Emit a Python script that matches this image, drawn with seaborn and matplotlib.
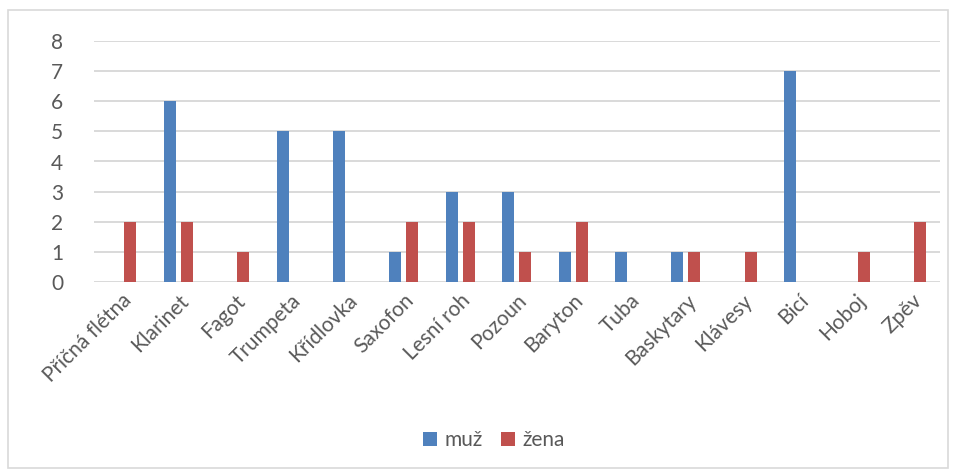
import pandas as pd
import seaborn as sns
from matplotlib import pyplot as plt
from matplotlib.patches import Rectangle

# Data
nastroje = ['Příčná flétna', 'Klarinet', 'Fagot', 'Trumpeta', 'Křídlovka', 'Saxofon',
            'Lesní roh', 'Pozoun', 'Baryton', 'Tuba', 'Baskytary', 'Klávesy', 'Bicí',
            'Hoboj', 'Zpěv']
muz = [0, 6, 0, 5, 5, 1, 3, 3, 1, 1, 1, 0, 7, 0, 0]
zena = [2, 2, 1, 0, 0, 2, 2, 1, 2, 0, 1, 1, 0, 1, 2]

df = pd.DataFrame({'nastroj': nastroje * 2,
                   'pocet': muz + zena,
                   'pohlavi': ['muž'] * len(muz) + ['žena'] * len(zena)})

sns.set_style('white')
plt.rcParams['font.family'] = ['Lato', 'DejaVu Sans']
text_col = '#595959'

fig = plt.figure(figsize=(9.55, 4.75), dpi=100)
ax = fig.add_axes([0.098, 0.406, 0.886, 0.508])

sns.barplot(data=df, x='nastroj', y='pocet', hue='pohlavi',
            palette={'muž': '#4F81BD', 'žena': '#C0504D'}, saturation=1,
            width=0.6, gap=0.29, linewidth=0, ax=ax, legend=True)

ax.set_ylim(0, 8)
ax.set_xlim(-0.5, len(nastroje) - 0.5)
ax.set_yticks(range(0, 9))
ax.yaxis.grid(True, color='#D9D9D9', linewidth=1.4)
ax.set_axisbelow(True)
for s in ax.spines.values():
    s.set_visible(False)
ax.set_xlabel('')
ax.set_ylabel('')
ax.tick_params(axis='both', length=0, colors=text_col, labelsize=15)
ax.tick_params(axis='y', pad=22)
ax.tick_params(axis='x', pad=6)
plt.setp(ax.get_xticklabels(), rotation=45, ha='right', rotation_mode='anchor')

leg = ax.legend(loc='center', ncol=2, frameon=False, fontsize=15,
                handlelength=0.65, handleheight=0.65,
                handletextpad=0.35, columnspacing=0.9)
leg.set_bbox_to_anchor((494 / 955, 1 - 440 / 475), transform=fig.transFigure)
for t in leg.get_texts():
    t.set_color(text_col)

# light frame around the whole chart
fig.patches.append(Rectangle((8 / 955, 7 / 475), 940 / 955, 458 / 475,
                             transform=fig.transFigure, fill=False,
                             edgecolor='#D9D9D9', linewidth=1.2))

fig.savefig('out.png', dpi=100)
